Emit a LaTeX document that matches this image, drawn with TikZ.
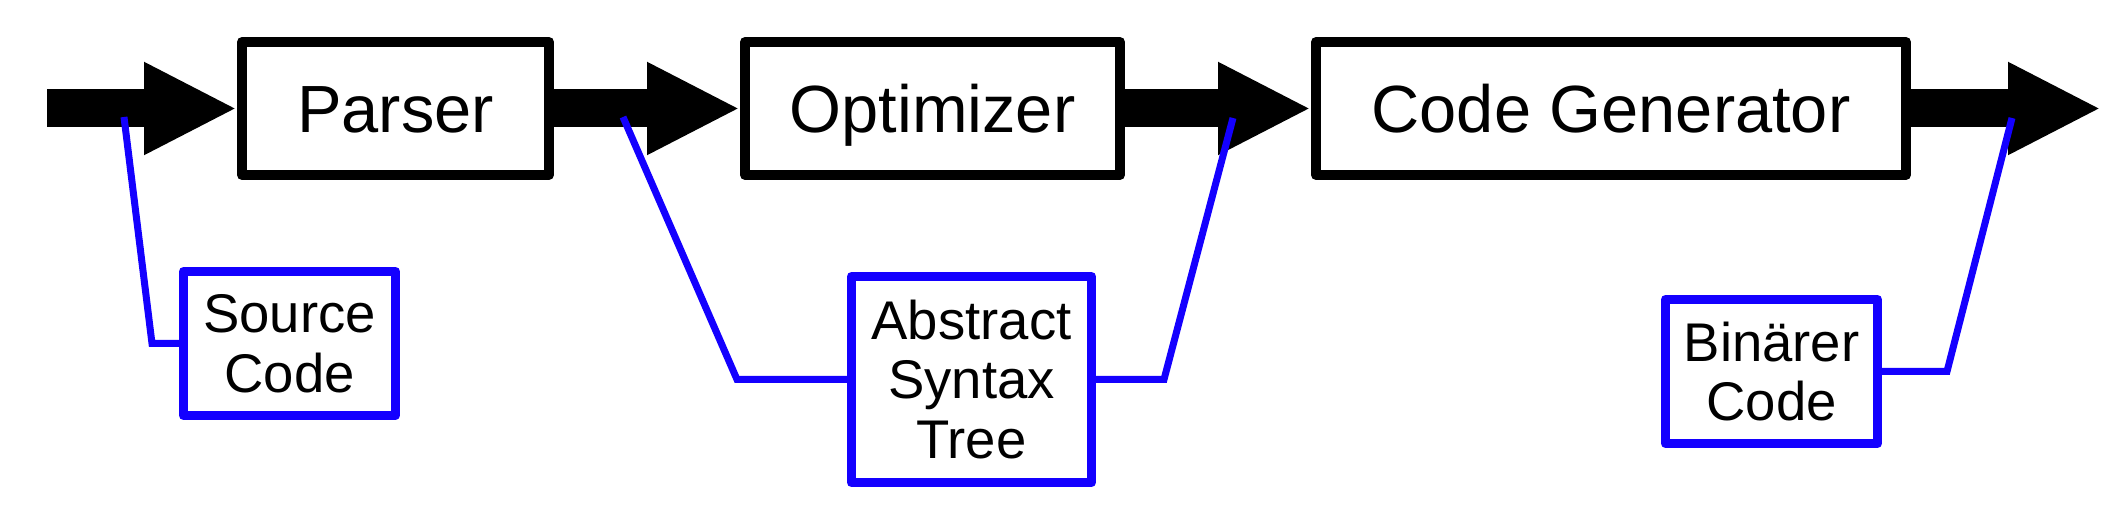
\documentclass[tikz,border=0pt]{standalone}
\usepackage{fontspec}
\setmainfont{Liberation Sans}
\definecolor{cgblue}{RGB}{20,0,255}
\usetikzlibrary{arrows.meta}

\begin{document}
\begin{tikzpicture}[
  stage/.style={draw=black,line width=1mm,line join=round,minimum height=1.33cm,inner sep=0pt,font=\fontsize{19}{23}\selectfont,text height=13.6pt,text depth=0pt},
  data/.style={draw=cgblue,line width=0.9mm,line join=round,inner sep=0pt,align=center,font=\fontsize{15.5}{17}\selectfont},
  flow/.style={line width=3.8mm,-{Triangle[length=9.3mm,width=8.6mm]}},
  link/.style={cgblue,line width=0.7mm}]
  \useasboundingbox (0,0) rectangle (21.26,5.28);
  % compiler stages
  \node[stage,minimum width=3.07cm] (parser) at (3.955,4.195) {Parser};
  \node[stage,minimum width=3.75cm] (optimizer) at (9.325,4.195) {Optimizer};
  \node[stage,minimum width=5.90cm] (codegen) at (16.11,4.195) {Code Generator};
  \coordinate (in) at (0.47,4.195);
  \coordinate (out) at (21.01,4.195);
  \draw[flow] (in) -- (parser.west);
  \draw[flow] (parser.east) -- (optimizer.west);
  \draw[flow] (optimizer.east) -- (codegen.west);
  \draw[flow] (codegen.east) -- (out);
  % data passed between the stages
  \node[data,minimum width=2.12cm,minimum height=1.44cm] (src) at (2.895,1.845) {Source\\Code};
  \node[data,minimum width=2.40cm,minimum height=2.06cm] (ast) at (9.715,1.485) {Abstract\\Syntax\\Tree};
  \node[data,minimum width=2.12cm,minimum height=1.44cm] (bin) at (17.715,1.565) {Binärer\\Code};
  \coordinate (srctap) at (1.24,4.11);
  \coordinate (asttapl) at (6.23,4.11);
  \coordinate (asttapr) at (12.33,4.10);
  \coordinate (bintap) at (20.12,4.10);
  \draw[link] (srctap) -- (1.52,1.845) -- (src.west);
  \draw[link] (asttapl) -- (7.37,1.485) -- (ast.west);
  \draw[link] (ast.east) -- (11.64,1.485) -- (asttapr);
  \draw[link] (bin.east) -- (19.47,1.565) -- (bintap);
\end{tikzpicture}
\end{document}
